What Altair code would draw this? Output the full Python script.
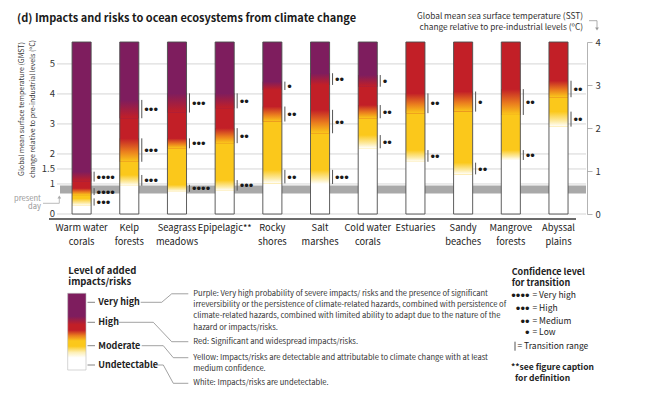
import altair as alt
import pandas as pd

# ---------------- data ----------------
eco_names = ["Warm water corals", "Kelp forests", "Seagrass meadows", "Epipelagic**",
             "Rocky shores", "Salt marshes", "Cold water corals", "Estuaries",
             "Sandy beaches", "Mangrove forests", "Abyssal plains"]
eco_labels = ["Warm water\ncorals", "Kelp\nforests", "Seagrass\nmeadows", "Epipelagic**",
              "Rocky\nshores", "Salt\nmarshes", "Cold water\ncorals", "Estuaries",
              "Sandy\nbeaches", "Mangrove\nforests", "Abyssal\nplains"]

# transitions (GMST, degC): undetectable->moderate, moderate->high, high->very high
um_lo = [0.28, 0.94, 0.74, 0.78, 1.02, 1.00, 2.19, 1.74, 1.32, 1.80, 2.91]
um_hi = [0.52, 1.30, 0.97, 1.13, 1.47, 1.47, 2.63, 2.13, 1.71, 2.13, 3.41]
um_conf = [3, 3, 4, 3, 2, 3, 2, 2, 2, 2, 2]
mh_lo = [0.63, 1.74, 2.19, 2.36, 3.08, 2.69, 3.19, 3.36, 3.41, 3.30, 3.89]
mh_hi = [0.86, 2.52, 2.52, 2.86, 3.58, 3.47, 3.63, 4.02, 4.08, 4.16, 4.44]
mh_conf = [4, 3, 3, 2, 2, 2, 2, 2, 1, 2, 2]
hv_lo = [1.08, 3.19, 3.38, 3.52, 4.13, 4.30, 4.24, None, None, None, None]
hv_hi = [1.41, 3.80, 4.02, 4.02, 4.41, 4.69, 4.63, None, None, None, None]
hv_conf = [4, 3, 3, 2, 1, 2, 1, None, None, None, None]

present_day = [0.68, 0.95]
gmst_ticks = [0, 1, 1.5, 2, 3, 4, 5]
sst_ticks = [0, 1, 2, 3, 4]
GMST_MAX = 5.73
SST_MAX = 4

conf_names = ["Very high", "High", "Medium", "Low"]
conf_dots = [4, 3, 2, 1]

# ---------------- style / layout ----------------
WHITE, YELLOW, ORANGE, RED, PURPLE = "#FFFFFF", "#FBC81B", "#EA7C1E", "#C21F27", "#7E1D5E"
FONT = "Noto Sans CJK SC"
DOTF = "Liberation Sans"
PAD_L, PAD_T, W, H = 60, 42, 527, 172


def px(x):
    return x - PAD_L


def py(y):
    return y - PAD_T


one = pd.DataFrame({"k": [0]})

# ---------------- tables ----------------
trans_rows, solid_rows = [], []
for i, e in enumerate(eco_names):
    for kind, lo, hi, c in (("um", um_lo[i], um_hi[i], um_conf[i]),
                            ("mh", mh_lo[i], mh_hi[i], mh_conf[i]),
                            ("hv", hv_lo[i], hv_hi[i], hv_conf[i])):
        if lo is None:
            continue
        trans_rows.append(dict(eco=e, kind=kind, lo=lo, hi=hi, mid=(lo + hi) / 2, dots="\u2022" * c))
    has_hv = hv_lo[i] is not None
    solid_rows.append(dict(eco=e, level="white", lo=0, hi=um_hi[i]))
    solid_rows.append(dict(eco=e, level="yellow", lo=um_lo[i], hi=mh_hi[i]))
    solid_rows.append(dict(eco=e, level="red", lo=mh_lo[i], hi=hv_hi[i] if has_hv else GMST_MAX))
    if has_hv:
        solid_rows.append(dict(eco=e, level="purple", lo=hv_lo[i], hi=GMST_MAX))
trans_df = pd.DataFrame(trans_rows)
solid_df = pd.DataFrame(solid_rows)
eco_df = pd.DataFrame({"eco": eco_names, "label": eco_labels, "lo": 0.0, "hi": GMST_MAX})
band_df = pd.DataFrame({"lo": [present_day[0]], "hi": [present_day[1]]})
gmst_df = pd.DataFrame({"v": gmst_ticks})
sst_df = pd.DataFrame({"sst": sst_ticks})

STEP = 47.69
X0 = 21.6 - STEP / 2
xscale = alt.Scale(domain=eco_names, range=[X0, X0 + STEP * len(eco_names)],
                   paddingInner=0.6, paddingOuter=0.3)
xenc = alt.X("eco:N", scale=xscale, axis=None)
yscale = alt.Scale(domain=[0, GMST_MAX], nice=False, zero=False)


def ynoaxis(f):
    return alt.Y(f, scale=yscale, axis=None)


def vgrad(stops, top_down=False):
    return alt.LinearGradient(
        gradient="linear", x1=0, x2=0,
        y1=0 if top_down else 1, y2=1 if top_down else 0,
        stops=[alt.GradientStop(offset=o, color=c) for o, c in stops])


layers = []

# GMST grid + tick labels (left axis)
layers.append(alt.Chart(gmst_df).mark_rule(color="#cacaca", strokeWidth=0.8).encode(
    x=alt.value(-3), x2=alt.value(W - 1), y=ynoaxis("v:Q")))
layers.append(alt.Chart(gmst_df).mark_text(align="right", baseline="middle", font=FONT, fontSize=9.5,
                                           color="#333333").encode(
    x=alt.value(-5), y=ynoaxis("v:Q"), text=alt.Text("v:Q", format="~g")))

# present-day band
layers.append(alt.Chart(band_df).mark_rect(color="#A9A9A9").encode(
    x=alt.value(0), x2=alt.value(W - 1), y=ynoaxis("lo:Q"), y2="hi:Q"))

# solid segments
layers.append(alt.Chart(solid_df).mark_rect().encode(
    x=xenc, y=ynoaxis("lo:Q"), y2="hi:Q",
    color=alt.Color("level:N", scale=alt.Scale(domain=["white", "yellow", "red", "purple"],
                                               range=[WHITE, YELLOW, RED, PURPLE]), legend=None)))

# gradient transitions
grads = {
    "um": [(0, WHITE), (0.35, "#FDEBA6"), (1, YELLOW)],
    "mh": [(0, YELLOW), (0.45, ORANGE), (1, RED)],
    "hv": [(0, RED), (1, PURPLE)],
}
for kind, stops in grads.items():
    layers.append(alt.Chart(trans_df).transform_filter(f"datum.kind == '{kind}'").mark_rect(
        fill=vgrad(stops)).encode(x=xenc, y=ynoaxis("lo:Q"), y2="hi:Q"))

# bar outlines
layers.append(alt.Chart(eco_df).mark_rect(fillOpacity=0, stroke="#4d4d4d", strokeWidth=0.9).encode(
    x=xenc, y=ynoaxis("lo:Q"), y2="hi:Q"))

# transition ranges and confidence dots
layers.append(alt.Chart(trans_df).mark_rule(color="#555555", strokeWidth=1, xOffset=12.5).encode(
    x=xenc, y=ynoaxis("lo:Q"), y2="hi:Q"))
layers.append(alt.Chart(trans_df).mark_text(align="left", baseline="middle", font=DOTF, fontSize=13,
                                            color="#1a1a1a", xOffset=15, dy=1).encode(
    x=xenc, y=ynoaxis("mid:Q"), text="dots:N"))

# category labels
layers.append(alt.Chart(eco_df).mark_text(lineBreak="\n", baseline="top", font=FONT, fontSize=9.3,
                                          color="#222222", lineHeight=13.5).encode(
    x=xenc, y=alt.value(py(224)), text="label:N"))


def txt(text, x, y, size=9, weight="normal", color="#222222", align="left", angle=0, font=FONT):
    kw = dict(text=text, align=align, baseline="middle", fontSize=size, fontWeight=weight,
              color=color, font=font)
    if angle:
        kw["angle"] = angle
    return alt.Chart(one).mark_text(**kw).encode(x=alt.value(px(x)), y=alt.value(py(y)))


def seg(x1, y1, x2, y2, color="#777777", width=0.7):
    return alt.Chart(one).mark_rule(color=color, strokeWidth=width).encode(
        x=alt.value(px(x1)), x2=alt.value(px(x2)), y=alt.value(py(y1)), y2=alt.value(py(y2)))


def tri(x, y, shape, color="#999999"):
    return alt.Chart(one).mark_point(shape=shape, size=14, filled=True, color=color, opacity=1).encode(
        x=alt.value(px(x)), y=alt.value(py(y)))


# x baseline
layers.append(seg(49, 219, 576, 219, color="#3a3a3a", width=1.6))

# titles
layers.append(txt("(d) Impacts and risks to ocean ecosystems from climate change", 17, 18.5,
                  size=11, weight="bold", color="#1a1a1a"))
layers.append(txt("Global mean surface temperature (GMST)", 21.7, 109, size=7.0, color="#333", align="center", angle=270))
layers.append(txt("change relative to pre-industrial levels (\u00baC)", 32.5, 109, size=7.0, color="#333", align="center", angle=270))
layers.append(txt("Global mean sea surface temperature (SST)", 583, 16.7, size=8.3, color="#333", align="right"))
layers.append(txt("change relative to pre-industrial levels (\u00baC)", 583, 28.3, size=8.3, color="#333", align="right"))
layers.append(seg(589, 20.7, 597, 20.7, color="#999999", width=0.8))
layers.append(seg(597, 20.7, 597, 28, color="#999999", width=0.8))
layers.append(tri(597, 29, "triangle-down"))

# present day
layers.append(txt("present", 41, 199, size=7.6, color="#9a9a9a", align="right"))
layers.append(txt("day", 41, 206.8, size=7.6, color="#9a9a9a", align="right"))
layers.append(seg(43, 203.3, 59.3, 203.3, color="#aaaaaa", width=0.8))
layers.append(seg(59.3, 203.3, 59.3, 198, color="#aaaaaa", width=0.8))
layers.append(tri(59.3, 197, "triangle-up", color="#aaaaaa"))

# level legend
layers.append(txt("Level of added", 68.3, 270.5, size=9.5, weight="bold"))
layers.append(txt("impacts/risks", 68.3, 281.5, size=9.5, weight="bold"))
layers.append(alt.Chart(one).mark_rect(
    fill=vgrad([(0, PURPLE), (0.30, PURPLE), (0.41, RED), (0.48, RED), (0.55, ORANGE),
                (0.62, YELLOW), (0.69, YELLOW), (0.77, "#FDEFB5"), (0.84, WHITE), (1, WHITE)], top_down=True),
    stroke="#b8b8b8", strokeWidth=0.6).encode(
    x=alt.value(px(67.7)), x2=alt.value(px(86)), y=alt.value(py(293.3)), y2=alt.value(py(370))))
lev = [("Very high", 302.3), ("High", 322.3), ("Moderate", 345.7), ("Undetectable", 365)]
for name, yy in lev:
    layers.append(seg(87.5, yy, 95, yy, color="#666666", width=0.8))
    layers.append(txt(name, 98.3, yy, size=9, weight="bold"))
connectors = [
    [(140.7, 302.3), (161.7, 302.3), (171.7, 293.8), (188.3, 293.8)],
    [(119, 322.3), (153.3, 322.3), (171.7, 341.7), (188.3, 341.7)],
    [(141.7, 345.7), (163.3, 345.7), (173.3, 357.7), (188.3, 357.7)],
    [(155, 365), (163.3, 365), (173.3, 383.3), (188.3, 383.3)],
]
for pts in connectors:
    for (a, b), (c, d) in zip(pts[:-1], pts[1:]):
        layers.append(seg(a, b, c, d, color="#7a7a7a", width=0.7))

desc = [
    ("Purple: Very high probability of severe impacts/ risks and the presence of significant", 294.3),
    ("irreversibility or the persistence of climate-related hazards, combined with persistence of", 305.3),
    ("climate-related hazards, combined with limited ability to adapt due to the nature of the", 316.3),
    ("hazard or impacts/risks.", 327.5),
    ("Red: Significant and widespread impacts/risks.", 342.3),
    ("Yellow: Impacts/risks are detectable and attributable to climate change with at least", 357.7),
    ("medium confidence.", 368.5),
    ("White: Impacts/risks are undetectable.", 383.3),
]
for t, yy in desc:
    layers.append(txt(t, 193.3, yy, size=7.6, color="#333333"))

# confidence legend
layers.append(txt("Confidence level", 511.7, 271.7, size=9, weight="bold"))
layers.append(txt("for transition", 511.7, 283.3, size=9, weight="bold"))
for (name, n), yy in zip(zip(conf_names, conf_dots), [295, 308.3, 320.5, 331.5]):
    layers.append(txt("\u2022" * n, 529.5, yy + 1, size=13, color="#1a1a1a", align="right", font=DOTF))
    layers.append(txt("= " + name, 532.5, yy, size=8.5))
layers.append(seg(515, 341.7, 515, 350.7, color="#555555", width=1))
layers.append(txt("= Transition range", 517.5, 346, size=8.5))
layers.append(txt("**see figure caption", 511, 366.7, size=8.5, weight="bold"))
layers.append(txt("for definition", 515, 378, size=8.5, weight="bold"))

main = alt.layer(*layers)

sst_layer = alt.Chart(sst_df).mark_point(opacity=0).encode(
    x=alt.value(0),
    y=alt.Y("sst:Q", scale=alt.Scale(domain=[0, SST_MAX], nice=False, zero=False),
            axis=alt.Axis(orient="right", values=sst_ticks, grid=False, domain=True,
                          domainColor="#a0a0a0", domainWidth=0.8, tickColor="#a0a0a0",
                          tickSize=5, tickWidth=0.8, labelPadding=3, labelFont=FONT,
                          labelFontSize=9.5, labelColor="#333", title=None)))

chart = alt.layer(main, sst_layer).resolve_scale(y="independent").properties(
    width=W, height=H,
    padding={"left": PAD_L, "top": PAD_T, "right": 645 - PAD_L - W, "bottom": 404 - PAD_T - H},
    autosize=alt.AutoSizeParams(type="none"),
    background="white",
).configure_view(strokeWidth=0)

chart.save("out.html", embed_options={"renderer": "svg", "actions": False})
